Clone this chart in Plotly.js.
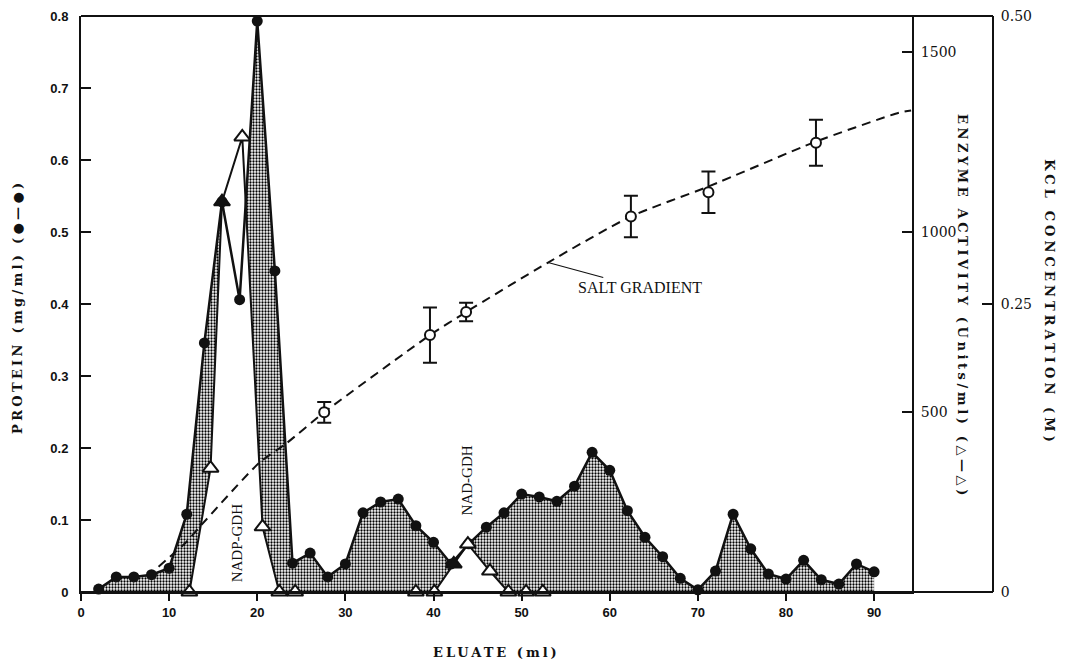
<!DOCTYPE html>
<html>
<head>
<meta charset="utf-8">
<script src="https://cdn.plot.ly/plotly-3.0.1.min.js"></script>
<style>
html, body { margin: 0; padding: 0; background: #ffffff; }
#chart { width: 1069px; height: 661px; }
.annotation-text[data-unformatted^="PROTEIN"] { letter-spacing: 3.3px; }
.annotation-text[data-unformatted^="ENZYME"] { letter-spacing: 3.6px; }
.annotation-text[data-unformatted^="KCL"] { letter-spacing: 4.1px; }
.annotation-text[data-unformatted^="ELUATE"] { letter-spacing: 3px; }
</style>
</head>
<body>
<div id="chart"></div>
<script>
// ---- data ----
const proteinX = [2,4,6,8,10,12,14,16,18,20,22,24,26,28,30,32,34,36,38,40,42,44,46,48,50,52,54,56,58,60,62,64,66,68,70,72,74,76,78,80,82,84,86,88,90];
const proteinMgMl = [0.004,0.021,0.021,0.024,0.033,0.108,0.346,0.542,0.406,0.793,0.446,0.040,0.054,0.021,0.039,0.110,0.125,0.129,0.092,0.069,0.039,0.067,0.090,0.110,0.136,0.132,0.126,0.147,0.194,0.169,0.113,0.076,0.049,0.019,0.003,0.029,0.108,0.060,0.025,0.018,0.044,0.017,0.011,0.039,0.028];

const enzymeX = [12.3,14.7,16,18.3,20.6,22.5,24.3,38,40.1,42.3,43.9,46.4,48.5,50.5,52.4];
const enzymeUnits = [0,344,1084,1264,181,0,0,0,0,78,133,58,0,0,0];
const enzymeOverlapX = [16, 42.3];   // triangle coincides with a protein point (drawn solid)

const saltX = [27.6,39.6,43.7,62.4,71.2,83.4];
const saltKcl = [0.156,0.223,0.243,0.326,0.347,0.390];
const saltErr = [0.009,0.024,0.008,0.018,0.018,0.020];

const gradientX = [8.8,11.9,13.4,20.2,23.3,27.6,39.6,43.7,53.0,62.4,71.2,83.4,92.8,94.2];
const gradientKcl = [0.022,0.043,0.056,0.112,0.129,0.156,0.223,0.243,0.286,0.326,0.352,0.391,0.416,0.418];

const proteinTicks = [0,0.1,0.2,0.3,0.4,0.5,0.6,0.7,0.8];
const proteinTickText = ['0','0.1','0.2','0.3','0.4','0.5','0.6','0.7','0.8'];
const enzymeTicks = [500,1000,1500];
const kclTicks = [0,0.25,0.5];
const kclTickText = ['0','0.25','0.50'];
const eluateTicks = [0,10,20,30,40,50,60,70,80,90];

// ---- styling ----
const INK = '#111111';
const tickFontL = {family: 'Liberation Sans, Arial, sans-serif', size: 13, color: INK, weight: 700};
const tickFontR = {family: 'DejaVu Serif, serif', size: 14, color: INK};
const titleFont = {family: 'DejaVu Serif, serif', size: 13, color: INK, weight: 700};
const labelFont = {family: 'Liberation Serif, Times New Roman, serif', size: 15, color: INK};
const saltFont = {family: 'Liberation Serif, Times New Roman, serif', size: 16, color: INK};

const enzymeMarkerColor = enzymeX.map(x => enzymeOverlapX.includes(x) ? INK : '#ffffff');

const traces = [
  { // stippled area under protein profile
    x: proteinX, y: proteinMgMl, xaxis: 'x', yaxis: 'y',
    type: 'scatter', mode: 'lines', line: {width: 0, color: INK},
    fill: 'tozeroy', fillcolor: '#ffffff',
    fillpattern: {shape: '.', fgcolor: '#000000', bgcolor: '#ffffff', size: 3, solidity: 0.45},
    hoverinfo: 'skip', showlegend: false
  },
  { // area under enzyme activity is left blank
    x: enzymeX, y: enzymeUnits, xaxis: 'x', yaxis: 'y2',
    type: 'scatter', mode: 'lines', line: {width: 0, color: '#ffffff'},
    fill: 'tozeroy', fillcolor: '#ffffff',
    hoverinfo: 'skip', showlegend: false
  },
  { // protein line + filled circles
    x: proteinX, y: proteinMgMl, xaxis: 'x', yaxis: 'y3',
    type: 'scatter', mode: 'lines+markers',
    line: {color: INK, width: 2.5},
    marker: {symbol: 'circle', size: 11, color: INK},
    cliponaxis: false, showlegend: false
  },
  { // enzyme line + open triangles
    x: enzymeX, y: enzymeUnits, xaxis: 'x', yaxis: 'y4',
    type: 'scatter', mode: 'lines+markers',
    line: {color: INK, width: 2},
    marker: {symbol: 'triangle-up', size: 14, color: enzymeMarkerColor, line: {color: INK, width: 2}},
    cliponaxis: false, showlegend: false
  },
  { // salt gradient dashed curve
    x: gradientX, y: gradientKcl, xaxis: 'x', yaxis: 'y5',
    type: 'scatter', mode: 'lines',
    line: {color: INK, width: 2, dash: '9px,6px', shape: 'spline', smoothing: 0.6},
    cliponaxis: false, showlegend: false
  },
  { // measured KCl with error bars
    x: saltX, y: saltKcl, xaxis: 'x', yaxis: 'y5',
    type: 'scatter', mode: 'markers',
    marker: {symbol: 'circle', size: 10, color: '#ffffff', line: {color: INK, width: 2}},
    error_y: {type: 'data', array: saltErr, visible: true, color: INK, thickness: 2, width: 7},
    cliponaxis: false, showlegend: false
  }
];

const layout = {
  width: 1069, height: 661,
  margin: {l: 81, r: 76, t: 16, b: 69, pad: 0},
  paper_bgcolor: '#ffffff', plot_bgcolor: '#ffffff',
  showlegend: false,
  font: {family: 'Liberation Sans, Arial, sans-serif', color: INK},
  xaxis: {
    domain: [0, 0.9112], range: [0, 94.3],
    tickvals: eluateTicks, ticks: 'outside', ticklen: 7, tickwidth: 2, tickcolor: INK,
    showline: true, linewidth: 2, linecolor: INK, showgrid: false, zeroline: false,
    tickfont: tickFontL, ticklabelstandoff: 0
  },
  yaxis: {
    range: [0, 0.8], tickvals: proteinTicks, ticktext: proteinTickText,
    ticks: 'inside', ticklen: 10, tickwidth: 2, tickcolor: INK,
    showline: true, linewidth: 2, linecolor: INK, showgrid: false, zeroline: false,
    tickfont: tickFontL, ticklabelstandoff: 8
  },
  yaxis2: {
    overlaying: 'y', side: 'right', anchor: 'x', range: [0, 1600],
    tickvals: enzymeTicks, ticks: 'inside', ticklen: 10, tickwidth: 2, tickcolor: INK,
    showline: true, linewidth: 2, linecolor: INK, showgrid: false, zeroline: false,
    tickfont: tickFontR, ticklabelstandoff: 4
  },
  yaxis3: {overlaying: 'y', range: [0, 0.8], visible: false},
  yaxis4: {overlaying: 'y', range: [0, 1600], visible: false},
  yaxis5: {
    overlaying: 'y', side: 'right', anchor: 'free', position: 1, range: [0, 0.5],
    tickvals: kclTicks, ticktext: kclTickText, ticks: 'inside', ticklen: 10, tickwidth: 2, tickcolor: INK,
    showline: true, linewidth: 2, linecolor: INK, showgrid: false, zeroline: false,
    tickfont: tickFontR, ticklabelstandoff: 4
  },
  shapes: [
    {type: 'line', xref: 'paper', yref: 'paper', x0: 0, x1: 1, y0: 1, y1: 1, line: {color: INK, width: 2}, layer: 'above'},
    {type: 'line', xref: 'paper', yref: 'paper', x0: 0, x1: 1, y0: 0, y1: 0, line: {color: INK, width: 2}, layer: 'above'}
  ],
  annotations: [
    {text: 'PROTEIN (mg/ml) (●—●)', xref: 'paper', yref: 'paper', x: 0, xshift: -63, y: 0.495,
     textangle: -90, showarrow: false, font: titleFont, xanchor: 'center', yanchor: 'middle'},
    {text: 'ENZYME ACTIVITY (Units/ml) (△—△)', xref: 'paper', yref: 'paper', x: 0.966, y: 0.495,
     textangle: 90, showarrow: false, font: titleFont, xanchor: 'center', yanchor: 'middle'},
    {text: 'KCL CONCENTRATION (M)', xref: 'paper', yref: 'paper', x: 1.0625, y: 0.503,
     textangle: 90, showarrow: false, font: titleFont, xanchor: 'center', yanchor: 'middle'},
    {text: 'ELUATE (ml)', xref: 'paper', yref: 'paper', x: 0.456, y: 0, yshift: -60,
     showarrow: false, font: titleFont, xanchor: 'center', yanchor: 'middle'},
    {text: 'NADP-GDH', xref: 'x', yref: 'y', x: 17.7, y: 0.069, textangle: -90,
     showarrow: false, font: labelFont, xanchor: 'center', yanchor: 'middle'},
    {text: 'NAD-GDH', xref: 'x', yref: 'y', x: 43.8, y: 0.155, textangle: -90,
     showarrow: false, font: labelFont, xanchor: 'center', yanchor: 'middle'},
    {text: 'SALT GRADIENT', xref: 'x', yref: 'y5', x: 53.0, y: 0.286,
     showarrow: true, arrowhead: 0, arrowwidth: 1.2, arrowcolor: INK, ax: 92, ay: 25,
     font: saltFont}
  ]
};

Plotly.newPlot('chart', traces, layout, {staticPlot: true, displayModeBar: false});
</script>
</body>
</html>
